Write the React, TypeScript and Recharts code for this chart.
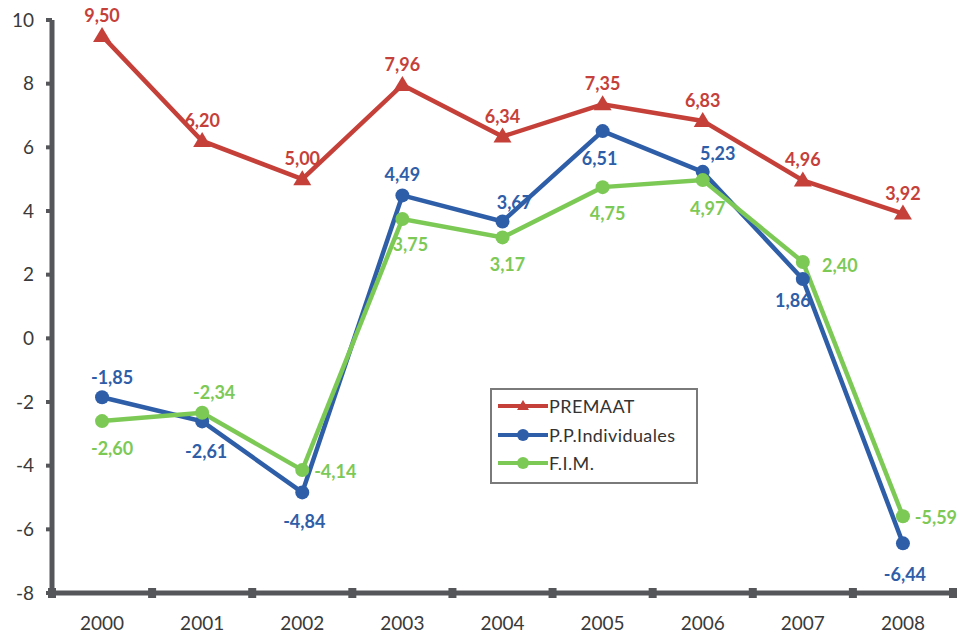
import React from "react";
import { LineChart, Line, XAxis, YAxis, LabelList, Legend, ReferenceDot } from "recharts";

const years = ["2000", "2001", "2002", "2003", "2004", "2005", "2006", "2007", "2008"];
const premaat = [9.5, 6.2, 5.0, 7.96, 6.34, 7.35, 6.83, 4.96, 3.92];
const ppIndividuales = [-1.85, -2.61, -4.84, 4.49, 3.67, 6.51, 5.23, 1.86, -6.44];
const fim = [-2.6, -2.34, -4.14, 3.75, 3.17, 4.75, 4.97, 2.4, -5.59];
const yTicks = [-8, -6, -4, -2, 0, 2, 4, 6, 8, 10];

const RED = "#c6403a";
const BLUE = "#2f5ea8";
const GREEN = "#7dc956";
const AXIS = "#545659";
const FONT = "Lato, 'Open Sans', sans-serif";

const data = years.map((y, i) => ({ i, year: y, premaat: premaat[i], pp: ppIndividuales[i], fim: fim[i] }));
const yearIdx = years.map((_, i) => i);
const edges = [...years.map((_, i) => i - 0.5), years.length - 0.5];

// label nudges (dx, dy) per point
const redOffs = years.map(() => [0, -21]);
const blueOffs = [[10, -20], [4, 30], [2, 29], [0, -21], [12, -20], [-3, 27], [15, -19], [-10, 21], [2, 31]];
const greenOffs = [[10, 27], [12, -21], [33, 1], [8, 25], [5, 27], [5, 26], [5, 28], [37, 3], [33, 1]];

const fmt = (v: number) => v.toFixed(2).replace(".", ",");

const makeLabel = (color: string, offs: number[][]) => (props: any) => {
  const { x, y, value, index } = props;
  const [dx, dy] = offs[index] || [0, -20];
  return (
    <text x={x + dx} y={y + dy} fill={color} textAnchor="middle" dominantBaseline="central"
      fontSize={18} fontWeight={700} fontFamily={FONT}>
      {fmt(value)}
    </text>
  );
};

const Triangle = (props: any) => {
  const { cx, cy, key, fill } = props;
  if (cx == null || cy == null) return null;
  return <path key={key} d={`M${cx},${cy - 9} L${cx + 9},${cy + 6} L${cx - 9},${cy + 6} Z`} fill={fill || RED} />;
};

const legendItems = [
  { name: "PREMAAT", color: RED, shape: "tri" },
  { name: "P.P.Individuales", color: BLUE, shape: "dot" },
  { name: "F.I.M.", color: GREEN, shape: "dot" },
];

const LegendBox = () => (
  <div style={{ border: "2px solid #7a7a7a", background: "#fff", padding: "2px 8px 4px 6px", width: 208, boxSizing: "border-box" }}>
    {legendItems.map((it) => (
      <div key={it.name} style={{ display: "flex", alignItems: "center", height: 28.5 }}>
        <svg width={50} height={16}>
          <line x1={0} y1={8} x2={50} y2={8} stroke={it.color} strokeWidth={4} />
          {it.shape === "tri"
            ? <path d="M25,2 L31,12 L19,12 Z" fill={it.color} />
            : <circle cx={25} cy={8} r={6} fill={it.color} />}
        </svg>
        <span style={{ fontFamily: FONT, fontSize: 18, color: "#333", marginLeft: 1, letterSpacing: 0.4 }}>{it.name}</span>
      </div>
    ))}
  </div>
);

const EdgeMark = (props: any) => {
  const { cx, cy } = props;
  return <rect x={cx - 4} y={cy - 5} width={8} height={10} fill={AXIS} />;
};

export default function App() {
  return (
    <div style={{ position: "absolute", left: 0, top: 0, width: 972, height: 639, background: "#fff" }}>
      <LineChart width={972} height={639} data={data} margin={{ top: 20, right: 19, bottom: 0, left: 0 }}>
        <XAxis
          dataKey="i"
          type="number"
          domain={[-0.5, years.length - 0.5]}
          ticks={yearIdx}
          tickFormatter={(v: number) => years[v]}
          tickLine={false}
          tickSize={0}
          tickMargin={24}
          height={46}
          axisLine={{ stroke: AXIS, strokeWidth: 5 }}
          tick={{ fill: "#3a3a3a", fontSize: 19, fontFamily: FONT }}
          interval={0}
        />
        <YAxis
          domain={[-8, 10]}
          ticks={yTicks}
          width={52}
          tickSize={6}
          tickMargin={12}
          tickLine={{ stroke: AXIS, strokeWidth: 4 }}
          axisLine={{ stroke: AXIS, strokeWidth: 5 }}
          tick={{ fill: "#3a3a3a", fontSize: 19, fontFamily: FONT }}
          interval={0}
        />
        {edges.map((e) => (
          <ReferenceDot key={e} x={e} y={-8} r={4} ifOverflow="visible" shape={EdgeMark} />
        ))}
        <Line dataKey="premaat" name="PREMAAT" stroke={RED} strokeWidth={4.5}
          dot={<Triangle fill={RED} />} isAnimationActive={false}>
          <LabelList dataKey="premaat" content={makeLabel(RED, redOffs)} />
        </Line>
        <Line dataKey="pp" name="P.P.Individuales" stroke={BLUE} strokeWidth={4.5}
          dot={{ r: 7, fill: BLUE, stroke: BLUE, strokeWidth: 0 }} isAnimationActive={false}>
          <LabelList dataKey="pp" content={makeLabel(BLUE, blueOffs)} />
        </Line>
        <Line dataKey="fim" name="F.I.M." stroke={GREEN} strokeWidth={4.5}
          dot={{ r: 7, fill: GREEN, stroke: GREEN, strokeWidth: 0 }} isAnimationActive={false}>
          <LabelList dataKey="fim" content={makeLabel(GREEN, greenOffs)} />
        </Line>
        <Legend
          layout="vertical"
          align="center"
          verticalAlign="middle"
          content={() => <LegendBox />}
          wrapperStyle={{ position: "absolute", left: 490, top: 388, width: 210 }}
        />
      </LineChart>
    </div>
  );
}
